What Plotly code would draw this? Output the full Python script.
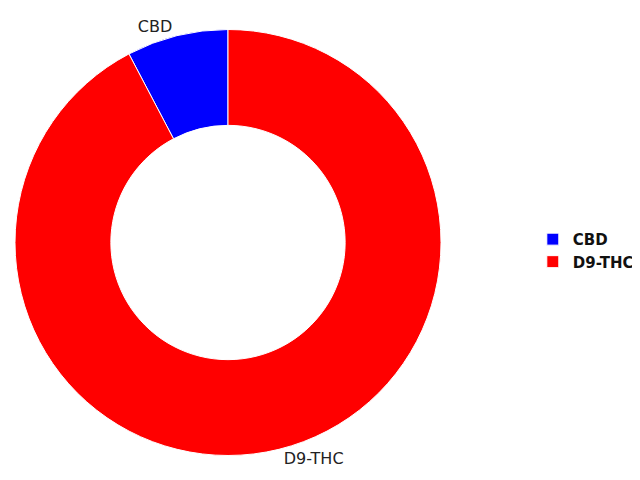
import plotly.graph_objects as go

labels = ["CBD", "D9-THC"]
values = [7.7, 92.3]
colors = ["#0000ff", "#ff0000"]

fig = go.Figure(go.Pie(
    labels=labels,
    values=values,
    hole=0.55,
    sort=False,
    direction="clockwise",
    rotation=360 - 0.077 * 360,
    textinfo="label",
    textposition="outside",
    marker=dict(colors=colors, line=dict(color="white", width=1)),
    textfont=dict(family="DejaVu Sans", size=16, color="#222"),
    domain=dict(x=[7 / 640, 433 / 640], y=[32.5 / 480, 458.5 / 480]),
    showlegend=True,
))
fig.update_layout(
    width=640, height=480,
    margin=dict(l=0, r=0, t=0, b=0),
    paper_bgcolor="white",
    font=dict(family="DejaVu Sans", size=14, color="#222"),
    legend=dict(font=dict(family="DejaVu Sans", size=15, color="#111", weight="bold"),
                x=0.82, y=0.495, xanchor="left", yanchor="middle"),
)
fig.write_html("out.html")
